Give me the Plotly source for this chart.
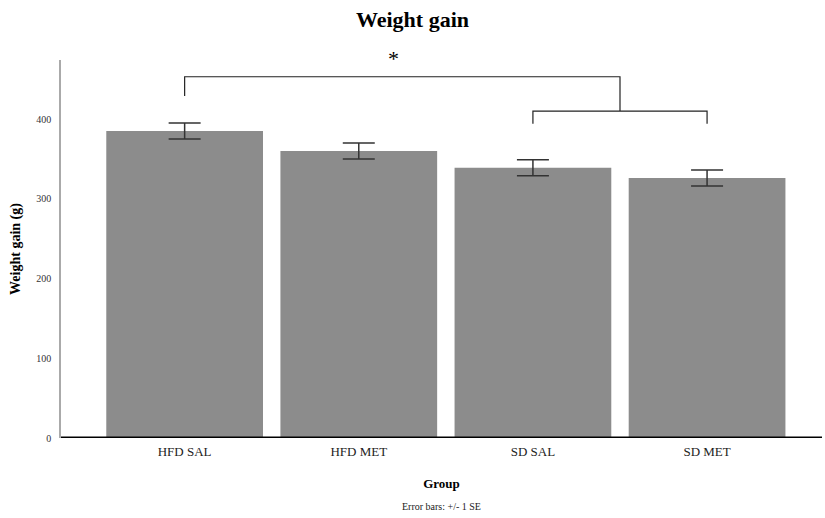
import plotly.graph_objects as go

groups = ["HFD SAL", "HFD MET", "SD SAL", "SD MET"]
means = [385, 360, 339, 326]
se = [10, 10, 10, 10]
y_ticks = [0, 100, 200, 300, 400]

# significance brackets: (x_start, x_end, y_line, y_leg_bottom_left, y_leg_bottom_right)
bracket_main = [0, 2.5, 453, 429, 410]
bracket_sub = [2, 3, 410, 394, 394]

fig = go.Figure()
fig.add_trace(go.Bar(
    x=list(range(len(groups))), y=means, width=0.9,
    marker=dict(color="#8c8c8c", line=dict(width=0)),
    error_y=dict(type="data", array=se, visible=True, color="#333333", thickness=1.5, width=16),
    showlegend=False, hoverinfo="skip",
))

def add_bracket(b):
    x0, x1, yl, yb0, yb1 = b
    fig.add_trace(go.Scatter(
        x=[x0, x0, x1, x1], y=[yb0, yl, yl, yb1], mode="lines",
        line=dict(color="#222222", width=1.2), showlegend=False, hoverinfo="skip",
    ))

add_bracket(bracket_main)
add_bracket(bracket_sub)

fig.add_annotation(x=1.2, y=1.005, xref="x", yref="paper", text="*", showarrow=False,
                   yanchor="middle", font=dict(family="Liberation Serif", size=22, color="#000"))

fig.update_layout(
    width=825, height=518,
    margin=dict(l=61, r=3, t=60, b=80, autoexpand=False),
    plot_bgcolor="white", paper_bgcolor="white",
    title=dict(text="<b>Weight gain</b>", x=0.5, xanchor="center", y=0.962, yanchor="middle",
               font=dict(family="Liberation Serif", size=22, color="#000")),
    font=dict(family="Liberation Serif", color="#000"),
    xaxis=dict(range=[-0.71, 3.66], tickmode="array", tickvals=list(range(len(groups))),
               ticktext=groups, showgrid=False, zeroline=False, showline=False, automargin=False,
               ticks="", tickfont=dict(size=13, color="#222"), ticklabelstandoff=4,
               title=dict(text="<b>Group</b>", font=dict(size=13), standoff=20)),
    yaxis=dict(range=[0, 474], tickvals=y_ticks, showgrid=False, zeroline=False, automargin=False,
               showline=True, linecolor="#aaaaaa", linewidth=1.5, ticks="",
               tickfont=dict(size=10, color="#333"), ticklabelstandoff=6,
               title=dict(text="<b>Weight gain (g)</b>", font=dict(size=14), standoff=12)),
)
fig.add_shape(type="line", xref="paper", yref="y", x0=0, x1=1, y0=0, y1=0,
              line=dict(color="#000", width=3))
fig.add_annotation(x=0.5, y=-0.18, xref="paper", yref="paper", text="Error bars: +/- 1 SE",
                   showarrow=False, xanchor="center", yanchor="middle",
                   font=dict(family="Liberation Serif", size=10, color="#222"))

fig.write_html("out.html", config={"displayModeBar": False},
               post_script="document.body.style.margin='0';")
